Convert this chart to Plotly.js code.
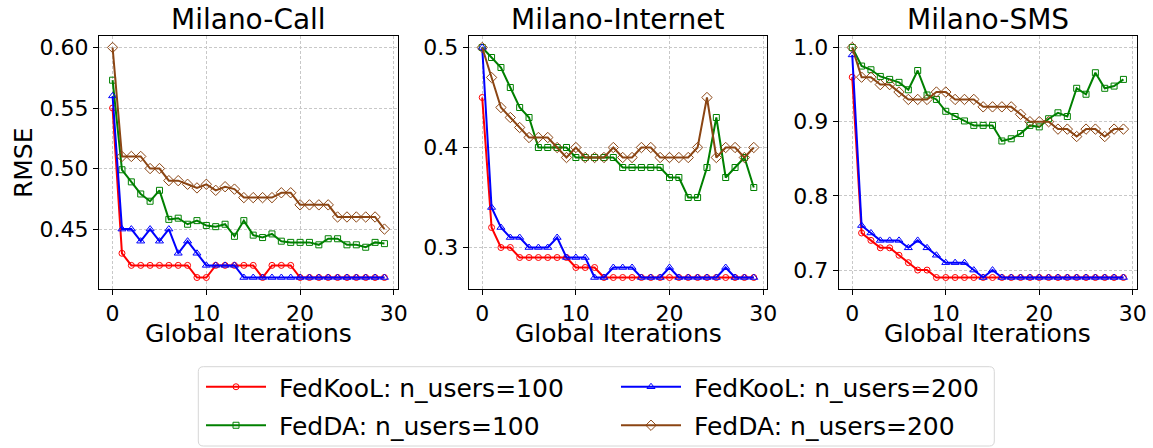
<!DOCTYPE html>
<html>
<head>
<meta charset="utf-8">
<script src="https://cdn.plot.ly/plotly-3.0.1.min.js"></script>
<style>
  html, body { margin: 0; padding: 0; background: #ffffff; }
  #chart { width: 1153px; height: 448px; }
</style>
</head>
<body>
<div id="chart"></div>
<script>
// Global iteration index shared by every curve
const iterations = [0, 1, 2, 3, 4, 5, 6, 7, 8, 9, 10, 11, 12, 13, 14, 15, 16, 17, 18, 19, 20, 21, 22, 23, 24, 25, 26, 27, 28, 29];

// Milano-Call RMSE
const callKooL100 = [0.55, 0.43, 0.42, 0.42, 0.42, 0.42, 0.42, 0.42, 0.42, 0.41, 0.41, 0.42, 0.42, 0.42, 0.42, 0.42, 0.41, 0.42, 0.42, 0.42, 0.41, 0.41, 0.41, 0.41, 0.41, 0.41, 0.41, 0.41, 0.41, 0.41];
const callDA100   = [0.573, 0.499, 0.489, 0.479, 0.473, 0.482, 0.458, 0.459, 0.454, 0.457, 0.453, 0.452, 0.454, 0.444, 0.457, 0.445, 0.443, 0.446, 0.440, 0.439, 0.439, 0.439, 0.437, 0.442, 0.442, 0.437, 0.437, 0.435, 0.439, 0.438];
const callKooL200 = [0.56, 0.45, 0.45, 0.44, 0.45, 0.44, 0.45, 0.43, 0.44, 0.43, 0.42, 0.42, 0.42, 0.42, 0.41, 0.41, 0.41, 0.41, 0.41, 0.41, 0.41, 0.41, 0.41, 0.41, 0.41, 0.41, 0.41, 0.41, 0.41, 0.41];
const callDA200   = [0.600, 0.510, 0.510, 0.510, 0.500, 0.500, 0.490, 0.490, 0.487, 0.484, 0.487, 0.482, 0.485, 0.483, 0.476, 0.476, 0.476, 0.476, 0.480, 0.480, 0.470, 0.470, 0.470, 0.470, 0.460, 0.460, 0.460, 0.460, 0.460, 0.450];

// Milano-Internet RMSE
const netKooL100 = [0.45, 0.32, 0.30, 0.30, 0.29, 0.29, 0.29, 0.29, 0.29, 0.29, 0.28, 0.28, 0.28, 0.27, 0.27, 0.27, 0.27, 0.27, 0.27, 0.27, 0.27, 0.27, 0.27, 0.27, 0.27, 0.27, 0.27, 0.27, 0.27, 0.27];
const netDA100   = [0.50, 0.49, 0.48, 0.46, 0.44, 0.43, 0.40, 0.40, 0.40, 0.40, 0.39, 0.39, 0.39, 0.39, 0.39, 0.38, 0.38, 0.38, 0.38, 0.38, 0.37, 0.37, 0.35, 0.35, 0.38, 0.43, 0.37, 0.38, 0.39, 0.36];
const netKooL200 = [0.50, 0.34, 0.32, 0.31, 0.31, 0.30, 0.30, 0.30, 0.31, 0.29, 0.29, 0.29, 0.27, 0.27, 0.28, 0.28, 0.28, 0.27, 0.27, 0.27, 0.28, 0.27, 0.27, 0.27, 0.27, 0.27, 0.28, 0.27, 0.27, 0.27];
const netDA200   = [0.50, 0.47, 0.44, 0.43, 0.42, 0.41, 0.41, 0.41, 0.40, 0.39, 0.40, 0.39, 0.39, 0.39, 0.40, 0.39, 0.39, 0.40, 0.40, 0.39, 0.39, 0.39, 0.39, 0.40, 0.45, 0.39, 0.40, 0.40, 0.39, 0.40];

// Milano-SMS RMSE
const smsKooL100 = [0.96, 0.75, 0.74, 0.73, 0.73, 0.72, 0.71, 0.70, 0.70, 0.69, 0.69, 0.69, 0.69, 0.69, 0.69, 0.69, 0.69, 0.69, 0.69, 0.69, 0.69, 0.69, 0.69, 0.69, 0.69, 0.69, 0.69, 0.69, 0.69, 0.69];
const smsDA100   = [1.000, 0.975, 0.970, 0.961, 0.957, 0.953, 0.943, 0.969, 0.936, 0.930, 0.914, 0.907, 0.901, 0.895, 0.895, 0.895, 0.874, 0.877, 0.884, 0.895, 0.893, 0.904, 0.912, 0.907, 0.945, 0.937, 0.966, 0.945, 0.948, 0.957];
const smsKooL200 = [0.99, 0.76, 0.75, 0.74, 0.74, 0.74, 0.73, 0.74, 0.73, 0.72, 0.71, 0.71, 0.71, 0.70, 0.69, 0.70, 0.69, 0.69, 0.69, 0.69, 0.69, 0.69, 0.69, 0.69, 0.69, 0.69, 0.69, 0.69, 0.69, 0.69];
const smsDA200   = [1.00, 0.96, 0.96, 0.95, 0.95, 0.94, 0.93, 0.93, 0.93, 0.94, 0.94, 0.93, 0.93, 0.93, 0.92, 0.92, 0.92, 0.92, 0.91, 0.90, 0.90, 0.90, 0.89, 0.89, 0.88, 0.89, 0.89, 0.88, 0.89, 0.89];

// Panel titles, axis labels, series names and tick marks
const panelTitles = ['Milano-Call', 'Milano-Internet', 'Milano-SMS'];
const xLabel = 'Global Iterations';
const yLabel = 'RMSE';
const seriesNames = ['FedKooL: n_users=100', 'FedDA: n_users=100', 'FedKooL: n_users=200', 'FedDA: n_users=200'];
const xTicks = [0, 10, 20, 30];
const callTicks = [0.45, 0.50, 0.55, 0.60];
const netTicks = [0.3, 0.4, 0.5];
const smsTicks = [0.7, 0.8, 0.9, 1.0];

const FONT = 'DejaVu Sans, Verdana, sans-serif';
const W = 1153, H = 448;

// Styling per series: colour, marker, and which legend column it sits in
const seriesStyle = [
  { color: '#ff0000', symbol: 'circle-open',      size: 6, legend: 'legend'  },
  { color: '#008000', symbol: 'square-open',      size: 6, legend: 'legend'  },
  { color: '#0000ff', symbol: 'triangle-up-open', size: 7, legend: 'legend2' },
  { color: '#8b4513', symbol: 'diamond-open',     size: 8, legend: 'legend2' }
];

const panels = [
  { series: [callKooL100, callDA100, callKooL200, callDA200], xa: 'x',  ya: 'y'  },
  { series: [netKooL100,  netDA100,  netKooL200,  netDA200],  xa: 'x2', ya: 'y2' },
  { series: [smsKooL100,  smsDA100,  smsKooL200,  smsDA200],  xa: 'x3', ya: 'y3' }
];

const traces = [];
panels.forEach((p, pi) => {
  p.series.forEach((vals, si) => {
    const st = seriesStyle[si];
    traces.push({
      type: 'scatter',
      mode: 'lines+markers',
      x: iterations,
      y: vals,
      xaxis: p.xa,
      yaxis: p.ya,
      name: '\u00a0' + seriesNames[si],
      legend: st.legend,
      legendgroup: 's' + si,
      showlegend: pi === 0,
      line: { color: st.color, width: 2 },
      marker: { symbol: st.symbol, size: st.size, color: st.color, line: { width: 1, color: st.color } }
    });
  });
});

// Plot area spans x 99..1137 px, y 36..289 px; margins stay fixed
const M = { l: 99, r: 16, t: 36, b: 159, autoexpand: false };
const PW = W - M.l - M.r, PH = H - M.t - M.b;
const domains = [[0, 0.2881], [0.3561, 0.6439], [0.7126, 1]];

function xAxis(i) {
  return {
    domain: domains[i],
    anchor: i === 0 ? 'y' : 'y' + (i + 1),
    range: [-1.45, 30.45],
    tickvals: xTicks,
    ticks: 'outside', ticklen: 5, tickwidth: 1, tickcolor: '#000',
    showline: true, mirror: true, linecolor: '#000', linewidth: 1,
    showgrid: true, gridcolor: '#c8c8c8', gridwidth: 1, griddash: '3px,2px',
    zeroline: false,
    automargin: false,
    tickfont: { family: FONT, size: 22, color: '#000' }
  };
}

function yAxis(i, range, ticks, fmt) {
  return {
    domain: [0, 1],
    anchor: i === 0 ? 'x' : 'x' + (i + 1),
    range: range,
    tickvals: ticks,
    tickformat: fmt,
    ticks: 'outside', ticklen: 5, tickwidth: 1, tickcolor: '#000',
    showline: true, mirror: true, linecolor: '#000', linewidth: 1,
    showgrid: true, gridcolor: '#c8c8c8', gridwidth: 1, griddash: '3px,2px',
    zeroline: false,
    automargin: false,
    tickfont: { family: FONT, size: 22, color: '#000' }
  };
}

// Panel titles above each plot and shared x-axis label below each plot
const annotations = [];
panelTitles.forEach((t, i) => {
  const xr = (i === 0 ? 'x' : 'x' + (i + 1)) + ' domain';
  annotations.push({
    text: t, xref: xr, yref: 'paper', x: 0.5, y: 1,
    xanchor: 'center', yanchor: 'middle', yshift: 17, showarrow: false,
    font: { family: FONT, size: 28, color: '#000' }
  });
  annotations.push({
    text: xLabel, xref: xr, yref: 'paper', x: 0.5, y: 0,
    xanchor: 'center', yanchor: 'middle', yshift: -44, showarrow: false,
    font: { family: FONT, size: 25, color: '#000' }
  });
});
// Y-axis label of the first panel, centred at x = 23.6 px
annotations.push({
  text: yLabel, xref: 'paper', yref: 'paper', x: (23.6 - M.l) / PW, y: 0.5,
  xanchor: 'center', yanchor: 'middle', textangle: -90, showarrow: false,
  font: { family: FONT, size: 25, color: '#000' }
});

// Legend frame: rounded box 198..994 px wide, 367..446 px tall
const box = { left: 198.3, right: 994.3, top: 366.7, bottom: 446, r: 5 };
const hw = (box.right - box.left) / 2, hh = (box.bottom - box.top) / 2, rr = box.r;
const framePath =
  `M ${-hw + rr},${-hh} L ${hw - rr},${-hh} Q ${hw},${-hh} ${hw},${-hh + rr} ` +
  `L ${hw},${hh - rr} Q ${hw},${hh} ${hw - rr},${hh} L ${-hw + rr},${hh} ` +
  `Q ${-hw},${hh} ${-hw},${hh - rr} L ${-hw},${-hh + rr} Q ${-hw},${-hh} ${-hw + rr},${-hh} Z`;

const legendFrame = {
  type: 'path',
  xref: 'paper', yref: 'paper',
  xsizemode: 'pixel', ysizemode: 'pixel',
  xanchor: ((box.left + box.right) / 2 - M.l) / PW,
  yanchor: (M.t + PH - (box.top + box.bottom) / 2) / PH,
  path: framePath,
  line: { color: '#d6d6d6', width: 1 },
  fillcolor: 'rgba(255,255,255,0)',
  layer: 'above'
};

function legendCol(leftPx) {
  return {
    orientation: 'v',
    xref: 'container', yref: 'container',
    x: leftPx / W,
    y: 1 - 364 / H,
    xanchor: 'left', yanchor: 'top',
    itemwidth: 60,
    tracegroupgap: 3,
    borderwidth: 0,
    bgcolor: 'rgba(0,0,0,0)',
    font: { family: FONT, size: 25, color: '#000' }
  };
}

const layout = {
  width: W,
  height: H,
  margin: M,
  paper_bgcolor: '#ffffff',
  plot_bgcolor: '#ffffff',
  font: { family: FONT, color: '#000' },
  showlegend: true,
  legend: legendCol(201),
  legend2: legendCol(616),
  shapes: [legendFrame],
  annotations: annotations,
  xaxis: xAxis(0), xaxis2: xAxis(1), xaxis3: xAxis(2),
  yaxis: yAxis(0, [0.4005, 0.6095], callTicks, '.2f'),
  yaxis2: yAxis(1, [0.2585, 0.5115], netTicks, '.1f'),
  yaxis3: yAxis(2, [0.6745, 1.0155], smsTicks, '.1f')
};

Plotly.newPlot('chart', traces, layout, { displayModeBar: false, staticPlot: true });
</script>
</body>
</html>
